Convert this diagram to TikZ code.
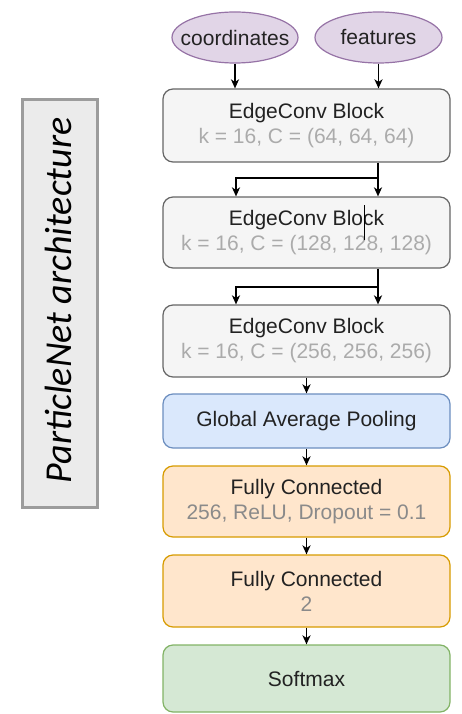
\documentclass[tikz,border=0pt]{standalone}
\usepackage{fontspec}
\setmainfont{Liberation Sans}
\newfontfamily\titlefont{Carlito}
\usetikzlibrary{arrows.meta,shapes.geometric}
\definecolor{grayfill}{HTML}{F5F5F5}
\definecolor{graystroke}{HTML}{666666}
\definecolor{bluefill}{HTML}{DAE8FC}
\definecolor{bluestroke}{HTML}{6C8EBF}
\definecolor{orangefill}{HTML}{FFE6CC}
\definecolor{orangestroke}{HTML}{D79B00}
\definecolor{greenfill}{HTML}{D5E8D4}
\definecolor{greenstroke}{HTML}{82B366}
\definecolor{purplefill}{HTML}{E1D5E7}
\definecolor{purplestroke}{HTML}{9673A6}
\definecolor{maintext}{HTML}{222222}
\definecolor{subtext}{HTML}{ABABAB}
\definecolor{subtextdark}{HTML}{8A8A8A}
\definecolor{labelfill}{HTML}{EBEBEB}
\definecolor{labelstroke}{HTML}{9C9C9C}
\tikzset{
  layer/.style={rectangle, rounded corners=10pt, line width=1.2pt,
    minimum width=287pt, align=center, inner sep=0pt, text=maintext,
    font=\fontsize{21}{25}\selectfont},
  edgeblock/.style={layer, fill=grayfill, draw=graystroke},
  poolblock/.style={layer, fill=bluefill, draw=bluestroke},
  denseblock/.style={layer, fill=orangefill, draw=orangestroke},
  outblock/.style={layer, fill=greenfill, draw=greenstroke},
  inputnode/.style={ellipse, fill=purplefill, draw=purplestroke, line width=1.2pt,
    minimum height=51pt, inner sep=0pt},
  inputtext/.style={inner sep=0pt, text=maintext, font=\fontsize{21}{25}\selectfont},
  flow/.style={line width=1.6pt, -{Stealth[length=9pt,width=8pt,inset=2.5pt]}},
  branch/.style={line width=1.6pt}
}
\begin{document}
\begin{tikzpicture}[x=1pt,y=-1pt]
\useasboundingbox (0,0) rectangle (462,714);

% side title
\node[draw=labelstroke, fill=labelfill, line width=3pt,
      minimum width=75pt, minimum height=407pt, inner sep=0pt] (title) at (59.5,303.5) {};
\node[rotate=90, font=\titlefont\itshape\fontsize{38}{40}\selectfont] (titletext) at (58,300.5) {ParticleNet architecture};

% inputs
\node[inputnode, minimum width=126pt] (coords) at (235,37.5) {};
\node[inputtext] (coordstext) at (coords) {coordinates};
\node[inputnode, minimum width=127pt] (feats) at (378.5,37.5) {};
\node[inputtext] (featstext) at (feats) {features};

% layers
\node[edgeblock, minimum height=73pt] (ec1) at (306.5,125.5)
  {EdgeConv Block\\\textcolor{subtext}{k = 16, C = (64, 64, 64)}};
\node[edgeblock, minimum height=71pt] (ec2) at (306.5,232.5)
  {EdgeConv Block\\\textcolor{subtext}{k = 16, C = (128, 128, 128)}};
\node[edgeblock, minimum height=72pt] (ec3) at (306.5,341)
  {EdgeConv Block\\\textcolor{subtext}{k = 16, C = (256, 256, 256)}};
\node[poolblock, minimum height=54pt] (gap) at (306.5,421) {Global Average Pooling};
\node[denseblock, minimum height=71pt] (fc1) at (306.5,501.5)
  {Fully Connected\\\textcolor{subtextdark}{256, ReLU, Dropout = 0.1}};
\node[denseblock, minimum height=72pt] (fc2) at (306.5,591)
  {Fully Connected\\\textcolor{subtextdark}{2}};
\node[outblock, minimum height=67pt] (soft) at (306.5,678.5) {Softmax};

% text cursor mark inside the second block
\draw[line width=0.7pt, black] (364,205) -- (364,240);

% input arrows
\draw[flow] (coords.south) -- (coords.south |- ec1.north);
\draw[flow] (feats.south) -- (feats.south |- ec1.north);

% split connections between EdgeConv blocks
\coordinate (j1) at (378,178);
\coordinate (j2) at (378,287);
\coordinate (l1) at (236,178);
\coordinate (l2) at (236,287);
\draw[flow] (ec1.south -| j1) -- (ec2.north -| j1);
\draw[flow] (j1) -- (l1) -- (l1 |- ec2.north);
\draw[flow] (ec2.south -| j2) -- (ec3.north -| j2);
\draw[flow] (j2) -- (l2) -- (l2 |- ec3.north);

% main chain
\draw[flow] (ec3) -- (gap);
\draw[flow] (gap) -- (fc1);
\draw[flow] (fc1) -- (fc2);
\draw[flow] (fc2) -- (soft);
\end{tikzpicture}
\end{document}
